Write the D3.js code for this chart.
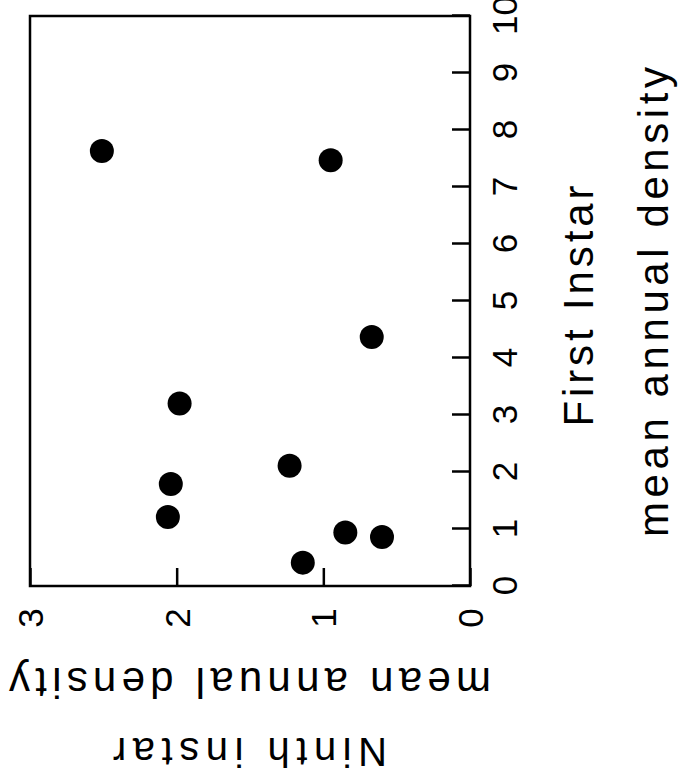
<!DOCTYPE html>
<html>
<head>
<meta charset="utf-8">
<script src="https://cdn.jsdelivr.net/npm/d3@7"></script>
<style>
  html, body { margin: 0; padding: 0; background: #fff; }
  svg { display: block; }
</style>
</head>
<body>
<svg id="chart" width="684" height="779"></svg>
<script>
// Data (original chart: x = First Instar, y = Ninth instar; the figure is printed rotated 90° CCW)
const firstInstar = [7.63, 7.47, 4.37, 3.20, 2.11, 1.79, 1.21, 0.94, 0.86, 0.41];
const ninthInstar = [2.51, 0.95, 0.67, 1.98, 1.23, 2.04, 2.06, 0.85, 0.60, 1.14];
const xTicks = [0, 1, 2, 3, 4, 5, 6, 7, 8, 9, 10];
const yTicks = [0, 1, 2, 3];
const xTitle1 = "First Instar";
const xTitle2 = "mean annual density";
const yTitle1 = "mean annual density";
const yTitle2 = "Ninth instar";

const points = firstInstar.map((f, i) => ({ f, n: ninthInstar[i] }));

const W = 570;  // local width (x-axis length)
const H = 440;  // local height (y-axis length)
const font = "'Liberation Sans', Arial, Helvetica, sans-serif";

const svg = d3.select("#chart");
const g = svg.append("g").attr("transform", "translate(30,586) rotate(-90)");

const x = d3.scaleLinear().domain([0, 10]).range([0, W]);
const y = d3.scaleLinear().domain([0, 3]).range([H, 0]);

// x axis (bottom in local coords -> right side on screen)
const xAxis = g.append("g")
  .attr("transform", `translate(0,${H})`)
  .call(d3.axisBottom(x).tickValues(xTicks).tickFormat(d3.format("d"))
    .tickSizeInner(-18).tickSizeOuter(0).tickPadding(22));
xAxis.select(".domain").remove();
xAxis.selectAll("line").attr("stroke", "#000").attr("stroke-width", 2.5);
xAxis.selectAll("text").attr("font-family", font).attr("font-size", 35).attr("fill", "#000");

// y axis (left in local coords -> bottom on screen)
const yAxis = g.append("g")
  .call(d3.axisLeft(y).tickValues(yTicks).tickFormat(d3.format("d"))
    .tickSizeInner(-18).tickSizeOuter(0));
yAxis.select(".domain").remove();
yAxis.selectAll("line").attr("stroke", "#000").attr("stroke-width", 2.5);
yAxis.selectAll("text")
  .attr("font-family", font).attr("font-size", 35).attr("fill", "#000")
  .attr("text-anchor", "middle").attr("x", -32).attr("dy", "0.36em");

// frame
g.append("rect").attr("x", 0).attr("y", 0).attr("width", W).attr("height", H)
  .attr("fill", "none").attr("stroke", "#000").attr("stroke-width", 2.5);

// points
g.append("g").selectAll("circle").data(points).enter().append("circle")
  .attr("cx", d => x(d.f)).attr("cy", d => y(d.n)).attr("r", 12).attr("fill", "#000");

// x titles
g.append("text").attr("x", W / 2 - 5).attr("y", H + 123)
  .attr("text-anchor", "middle").attr("font-family", font).attr("font-size", 42)
  .attr("textLength", 241).attr("lengthAdjust", "spacing")
  .text(xTitle1);
g.append("text").attr("x", W / 2 - 1).attr("y", H + 198)
  .attr("text-anchor", "middle").attr("font-family", font).attr("font-size", 42)
  .attr("textLength", 470).attr("lengthAdjust", "spacing")
  .text(xTitle2);

// y titles (rotated in local coords)
g.append("text").attr("transform", `translate(-82,${H / 2}) rotate(-90)`)
  .attr("text-anchor", "middle").attr("font-family", font).attr("font-size", 42)
  .attr("textLength", 482).attr("lengthAdjust", "spacing")
  .text(yTitle1);
g.append("text").attr("transform", `translate(-152,${H / 2}) rotate(-90)`)
  .attr("text-anchor", "middle").attr("font-family", font).attr("font-size", 40)
  .attr("textLength", 274).attr("lengthAdjust", "spacing")
  .text(yTitle2);
</script>
</body>
</html>
